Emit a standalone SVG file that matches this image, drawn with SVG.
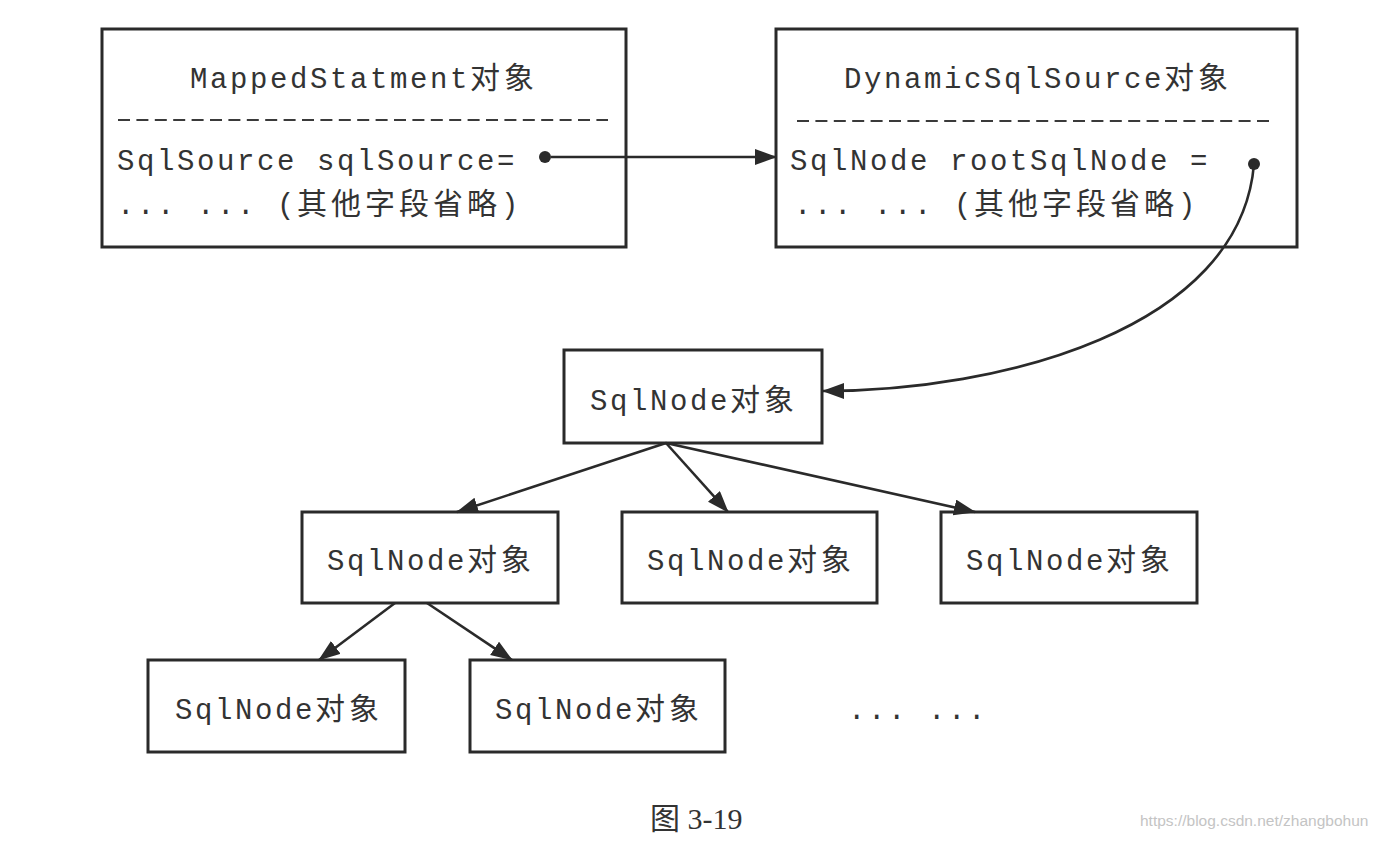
<svg xmlns="http://www.w3.org/2000/svg" width="1381" height="844" viewBox="0 0 1381 844">
<defs>
<style>
.box{fill:#fff;stroke:#2a2a2a;stroke-width:3}
.mono{font-family:"Liberation Mono","Noto Sans CJK SC",monospace;font-size:29px;letter-spacing:2.6px;fill:#333}
.node{font-family:"Liberation Mono","Noto Sans CJK SC",monospace;font-size:29px;letter-spacing:2.6px;fill:#333;text-anchor:middle}
.cj{font-family:"Noto Sans CJK SC",sans-serif;font-size:30px;letter-spacing:4px}
.dash{stroke:#3a3a3a;stroke-width:2;stroke-dasharray:12 6.4}
.conn{fill:none;stroke:#2a2a2a;stroke-width:2.6}
.dot{fill:#2a2a2a}
</style>
<marker id="arr" markerUnits="userSpaceOnUse" markerWidth="24" markerHeight="18" refX="21" refY="8" orient="auto">
<path d="M0,0 L22,8 L0,16 z" fill="#2a2a2a"/>
</marker>
</defs>
<rect width="1381" height="844" fill="#fff"/>

<g id="mappedStatement">
<rect class="box" x="102" y="29" width="524" height="218"/>
<text class="mono" x="190" y="88">MappedStatment<tspan class="cj">对象</tspan></text>
<line class="dash" x1="118" y1="120" x2="608" y2="120"/>
<text class="mono" x="117" y="170">SqlSource sqlSource=</text>
<text class="mono" x="117" y="214">... ... (<tspan class="cj">其他字段省略</tspan>)</text>
<circle class="dot" cx="545" cy="157" r="6"/>
</g>

<g id="dynamicSqlSource">
<rect class="box" x="776" y="29" width="521" height="218"/>
<text class="mono" x="844" y="88">DynamicSqlSource<tspan class="cj">对象</tspan></text>
<line class="dash" x1="797" y1="121" x2="1273" y2="121"/>
<text class="mono" x="790" y="170">SqlNode rootSqlNode =</text>
<text class="mono" x="794" y="214">... ... (<tspan class="cj">其他字段省略</tspan>)</text>
<circle class="dot" cx="1254" cy="164" r="6"/>
</g>

<g id="rootSqlNode">
<rect class="box" x="564" y="350" width="258" height="93"/>
<text class="node" x="694" y="410">SqlNode<tspan class="cj">对象</tspan></text>
</g>

<g id="sqlNodeA">
<rect class="box" x="302" y="512" width="256" height="91"/>
<text class="node" x="431" y="570">SqlNode<tspan class="cj">对象</tspan></text>
</g>
<g id="sqlNodeB">
<rect class="box" x="622" y="512" width="255" height="91"/>
<text class="node" x="751" y="570">SqlNode<tspan class="cj">对象</tspan></text>
</g>
<g id="sqlNodeC">
<rect class="box" x="941" y="512" width="256" height="91"/>
<text class="node" x="1070" y="570">SqlNode<tspan class="cj">对象</tspan></text>
</g>

<g id="sqlNodeD">
<rect class="box" x="148" y="660" width="257" height="92"/>
<text class="node" x="279" y="719">SqlNode<tspan class="cj">对象</tspan></text>
</g>
<g id="sqlNodeE">
<rect class="box" x="470" y="660" width="255" height="92"/>
<text class="node" x="599" y="719">SqlNode<tspan class="cj">对象</tspan></text>
</g>

<g id="ellipsis">
<text class="mono" x="848" y="719">... ...</text>
</g>

<g id="connectors">
<path class="conn" d="M551,157 L776,157" marker-end="url(#arr)"/>
<path class="conn" d="M1254,164 C1240,330 1000,391 823,391" marker-end="url(#arr)"/>
<path class="conn" d="M666,443 L457,512" marker-end="url(#arr)"/>
<path class="conn" d="M666,443 L728,512" marker-end="url(#arr)"/>
<path class="conn" d="M666,443 L975,512" marker-end="url(#arr)"/>
<path class="conn" d="M395,603 L319,660" marker-end="url(#arr)"/>
<path class="conn" d="M427,603 L512,660" marker-end="url(#arr)"/>
</g>

<text x="650" y="829" font-family="'Liberation Serif','Noto Sans CJK SC',serif" font-size="30" fill="#333">图 3-19</text>
<text x="1140" y="826" font-family="'Liberation Sans',sans-serif" font-size="15.5" fill="#c4c4c4">https://blog.csdn.net/zhangbohun</text>
</svg>
